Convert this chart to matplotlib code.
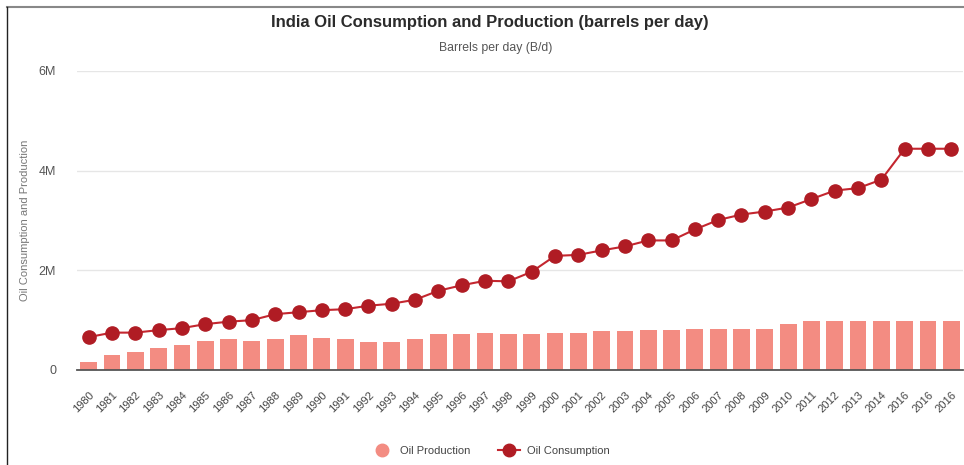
import matplotlib
matplotlib.use("Agg")
import matplotlib.pyplot as plt
from matplotlib.lines import Line2D
import numpy as np

plt.rcParams['font.family'] = ['Liberation Sans', 'DejaVu Sans']

years = [str(y) for y in range(1980, 2015)] + ["2016", "2016", "2016"]

production = [0.17, 0.31, 0.37, 0.45, 0.51, 0.58, 0.62, 0.59, 0.62, 0.70,
              0.64, 0.62, 0.56, 0.56, 0.62, 0.72, 0.72, 0.75, 0.72, 0.72,
              0.75, 0.75, 0.78, 0.78, 0.80, 0.80, 0.83, 0.83, 0.83, 0.83,
              0.92, 0.98, 0.98, 0.98, 0.98, 0.98, 0.98, 0.98]

consumption = [0.66, 0.75, 0.75, 0.80, 0.84, 0.92, 0.97, 1.00, 1.12, 1.16,
               1.20, 1.22, 1.29, 1.33, 1.41, 1.59, 1.70, 1.79, 1.78, 1.97,
               2.29, 2.31, 2.40, 2.48, 2.60, 2.60, 2.82, 3.01, 3.12, 3.18,
               3.26, 3.43, 3.60, 3.65, 3.82, 4.44, 4.44, 4.44]

yticks = [0, 2e6, 4e6, 6e6]
ytick_labels = ["0", "2M", "4M", "6M"]

bar_color = "#f38c82"
line_color = "#c4262f"
marker_color = "#b01c24"

fig = plt.figure(figsize=(9.64, 4.65), dpi=100)
ax = fig.add_axes([77 / 964, 1 - 370 / 465, 886 / 964, 299 / 465])

x = np.arange(len(years))
prod = np.array(production) * 1e6
cons = np.array(consumption) * 1e6

ax.bar(x, prod, width=0.72, color=bar_color, zorder=2)
ax.plot(x, cons, color=line_color, lw=1.5, marker='o', markersize=9.5,
        markerfacecolor=marker_color, markeredgecolor=marker_color, zorder=3)

ax.set_xlim(-0.5, len(years) - 0.5)
ax.set_ylim(0, 6e6)
ax.set_yticks(yticks)
ax.set_yticklabels(ytick_labels)
ax.yaxis.grid(True, color="#e6e6e6", lw=1)
ax.set_axisbelow(True)
for s in ['top', 'right', 'left']:
    ax.spines[s].set_visible(False)
ax.spines['bottom'].set_color("#555555")
ax.spines['bottom'].set_linewidth(1.3)
ax.spines['bottom'].set_zorder(4)

ax.set_xticks(x)
ax.set_xticklabels(years, rotation=45, ha='right', rotation_mode='anchor',
                   fontsize=8, color="#444444")
ax.tick_params(axis='x', length=0, pad=14)
ax.tick_params(axis='y', length=0, pad=15, labelsize=9, labelcolor="#555555")

ax.set_ylabel("Oil Consumption and Production", fontsize=8, color="#777777")
ax.yaxis.set_label_coords(-47 / 886, 0.5)

fig.text(490 / 964, 1 - 22 / 465, "India Oil Consumption and Production (barrels per day)",
         ha='center', va='center', fontsize=12, fontweight='bold', color="#2b2b2b")
fig.text(496 / 964, 1 - 48 / 465, "Barrels per day (B/d)", ha='center', va='center',
         fontsize=8.8, color="#555555")

# frame lines (top, left)
fig.add_artist(Line2D([7 / 964, 963 / 964], [1 - 7 / 465, 1 - 7 / 465],
                      color="#888888", lw=1.5, transform=fig.transFigure))
fig.add_artist(Line2D([7 / 964, 7 / 964], [1 - 7 / 465, 0], color="#222222",
                      lw=1, transform=fig.transFigure))

handles = [
    Line2D([], [], marker='o', color='none', markerfacecolor=bar_color,
           markeredgecolor=bar_color, markersize=9),
    Line2D([], [], marker='o', color=line_color, lw=1.5, markerfacecolor=marker_color,
           markeredgecolor=marker_color, markersize=9),
]
fig.legend(handles, ["Oil Production", "Oil Consumption"], loc='center',
           bbox_to_anchor=(490 / 964, 1 - 451 / 465), ncol=2, frameon=False,
           fontsize=8, labelcolor="#444444", handlelength=2.0, columnspacing=2.5,
           handletextpad=0.6)

fig.savefig("out.png", dpi=100)
